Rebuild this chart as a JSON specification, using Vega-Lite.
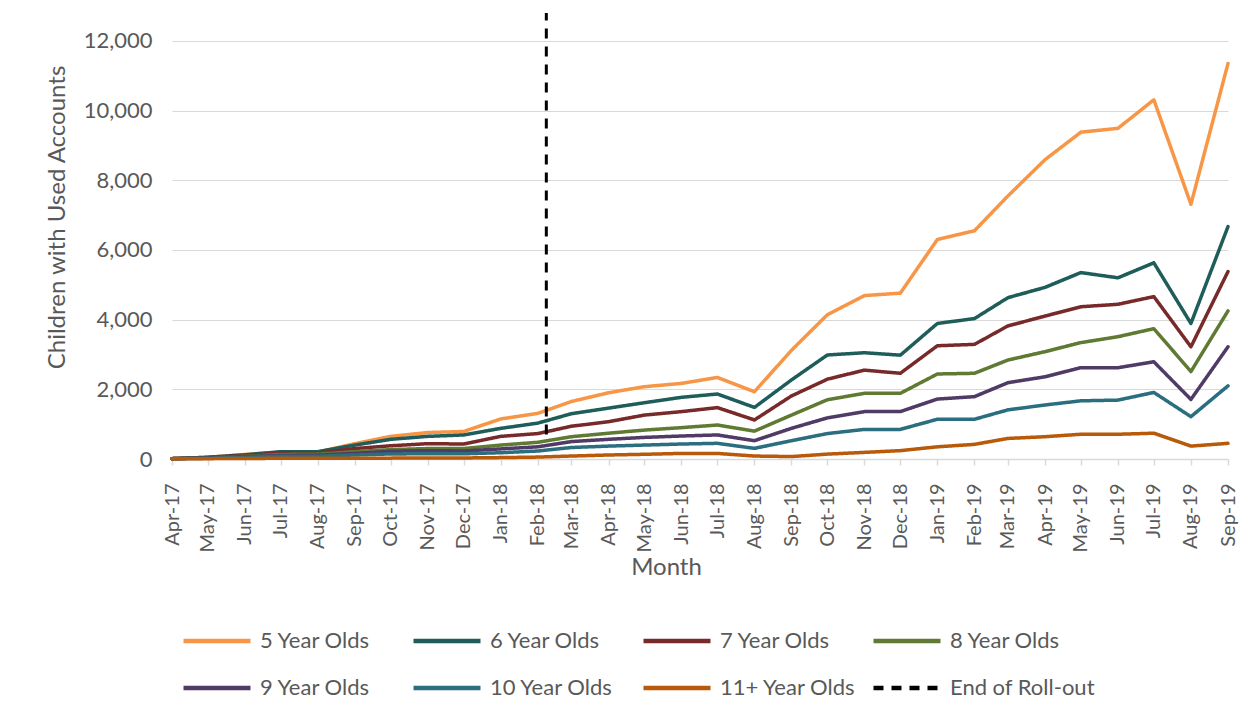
{
  "$schema": "https://vega.github.io/schema/vega-lite/v6.json",
  "width": 1056,
  "height": 446,
  "autosize": {"type": "none"},
  "padding": {"left": 172, "top": 13, "right": 15, "bottom": 250},
  "background": "white",
  "config": {
    "font": "Lato",
    "view": {"stroke": null},
    "axis": {
      "labelColor": "#595959",
      "titleColor": "#595959",
      "titleFontWeight": "normal",
      "domainColor": "#D9D9D9",
      "tickColor": "#D9D9D9",
      "gridColor": "#D9D9D9"
    },
    "legend": {
      "title": null,
      "orient": "none",
      "legendX": 9,
      "legendY": 592,
      "direction": "horizontal",
      "columns": 4,
      "gridAlign": "all",
      "symbolType": "stroke",
      "symbolSize": 4489,
      "symbolStrokeWidth": 4.5,
      "labelFontSize": 22,
      "labelColor": "#595959",
      "labelOffset": 7,
      "labelLimit": 400,
      "columnPadding": -1,
      "rowPadding": 0
    }
  },
  "datasets": {
    "counts": [
      {"month": "2017-04-01", "group": "5 Year Olds", "children": 10},
      {"month": "2017-05-01", "group": "5 Year Olds", "children": 50},
      {"month": "2017-06-01", "group": "5 Year Olds", "children": 130},
      {"month": "2017-07-01", "group": "5 Year Olds", "children": 200},
      {"month": "2017-08-01", "group": "5 Year Olds", "children": 200},
      {"month": "2017-09-01", "group": "5 Year Olds", "children": 440},
      {"month": "2017-10-01", "group": "5 Year Olds", "children": 650},
      {"month": "2017-11-01", "group": "5 Year Olds", "children": 760},
      {"month": "2017-12-01", "group": "5 Year Olds", "children": 790},
      {"month": "2018-01-01", "group": "5 Year Olds", "children": 1150},
      {"month": "2018-02-01", "group": "5 Year Olds", "children": 1310},
      {"month": "2018-03-01", "group": "5 Year Olds", "children": 1650},
      {"month": "2018-04-01", "group": "5 Year Olds", "children": 1900},
      {"month": "2018-05-01", "group": "5 Year Olds", "children": 2075},
      {"month": "2018-06-01", "group": "5 Year Olds", "children": 2170},
      {"month": "2018-07-01", "group": "5 Year Olds", "children": 2340},
      {"month": "2018-08-01", "group": "5 Year Olds", "children": 1930},
      {"month": "2018-09-01", "group": "5 Year Olds", "children": 3120},
      {"month": "2018-10-01", "group": "5 Year Olds", "children": 4140},
      {"month": "2018-11-01", "group": "5 Year Olds", "children": 4690},
      {"month": "2018-12-01", "group": "5 Year Olds", "children": 4760},
      {"month": "2019-01-01", "group": "5 Year Olds", "children": 6300},
      {"month": "2019-02-01", "group": "5 Year Olds", "children": 6550},
      {"month": "2019-03-01", "group": "5 Year Olds", "children": 7550},
      {"month": "2019-04-01", "group": "5 Year Olds", "children": 8590},
      {"month": "2019-05-01", "group": "5 Year Olds", "children": 9380},
      {"month": "2019-06-01", "group": "5 Year Olds", "children": 9490},
      {"month": "2019-07-01", "group": "5 Year Olds", "children": 10310},
      {"month": "2019-08-01", "group": "5 Year Olds", "children": 7310},
      {"month": "2019-09-01", "group": "5 Year Olds", "children": 11350},

      {"month": "2017-04-01", "group": "6 Year Olds", "children": 10},
      {"month": "2017-05-01", "group": "6 Year Olds", "children": 50},
      {"month": "2017-06-01", "group": "6 Year Olds", "children": 120},
      {"month": "2017-07-01", "group": "6 Year Olds", "children": 210},
      {"month": "2017-08-01", "group": "6 Year Olds", "children": 210},
      {"month": "2017-09-01", "group": "6 Year Olds", "children": 400},
      {"month": "2017-10-01", "group": "6 Year Olds", "children": 565},
      {"month": "2017-11-01", "group": "6 Year Olds", "children": 650},
      {"month": "2017-12-01", "group": "6 Year Olds", "children": 690},
      {"month": "2018-01-01", "group": "6 Year Olds", "children": 880},
      {"month": "2018-02-01", "group": "6 Year Olds", "children": 1030},
      {"month": "2018-03-01", "group": "6 Year Olds", "children": 1300},
      {"month": "2018-04-01", "group": "6 Year Olds", "children": 1460},
      {"month": "2018-05-01", "group": "6 Year Olds", "children": 1615},
      {"month": "2018-06-01", "group": "6 Year Olds", "children": 1770},
      {"month": "2018-07-01", "group": "6 Year Olds", "children": 1865},
      {"month": "2018-08-01", "group": "6 Year Olds", "children": 1480},
      {"month": "2018-09-01", "group": "6 Year Olds", "children": 2270},
      {"month": "2018-10-01", "group": "6 Year Olds", "children": 2985},
      {"month": "2018-11-01", "group": "6 Year Olds", "children": 3050},
      {"month": "2018-12-01", "group": "6 Year Olds", "children": 2980},
      {"month": "2019-01-01", "group": "6 Year Olds", "children": 3890},
      {"month": "2019-02-01", "group": "6 Year Olds", "children": 4030},
      {"month": "2019-03-01", "group": "6 Year Olds", "children": 4630},
      {"month": "2019-04-01", "group": "6 Year Olds", "children": 4925},
      {"month": "2019-05-01", "group": "6 Year Olds", "children": 5350},
      {"month": "2019-06-01", "group": "6 Year Olds", "children": 5200},
      {"month": "2019-07-01", "group": "6 Year Olds", "children": 5630},
      {"month": "2019-08-01", "group": "6 Year Olds", "children": 3890},
      {"month": "2019-09-01", "group": "6 Year Olds", "children": 6670},

      {"month": "2017-04-01", "group": "7 Year Olds", "children": 10},
      {"month": "2017-05-01", "group": "7 Year Olds", "children": 40},
      {"month": "2017-06-01", "group": "7 Year Olds", "children": 100},
      {"month": "2017-07-01", "group": "7 Year Olds", "children": 170},
      {"month": "2017-08-01", "group": "7 Year Olds", "children": 170},
      {"month": "2017-09-01", "group": "7 Year Olds", "children": 300},
      {"month": "2017-10-01", "group": "7 Year Olds", "children": 380},
      {"month": "2017-11-01", "group": "7 Year Olds", "children": 440},
      {"month": "2017-12-01", "group": "7 Year Olds", "children": 430},
      {"month": "2018-01-01", "group": "7 Year Olds", "children": 650},
      {"month": "2018-02-01", "group": "7 Year Olds", "children": 730},
      {"month": "2018-03-01", "group": "7 Year Olds", "children": 940},
      {"month": "2018-04-01", "group": "7 Year Olds", "children": 1070},
      {"month": "2018-05-01", "group": "7 Year Olds", "children": 1260},
      {"month": "2018-06-01", "group": "7 Year Olds", "children": 1360},
      {"month": "2018-07-01", "group": "7 Year Olds", "children": 1475},
      {"month": "2018-08-01", "group": "7 Year Olds", "children": 1120},
      {"month": "2018-09-01", "group": "7 Year Olds", "children": 1810},
      {"month": "2018-10-01", "group": "7 Year Olds", "children": 2290},
      {"month": "2018-11-01", "group": "7 Year Olds", "children": 2550},
      {"month": "2018-12-01", "group": "7 Year Olds", "children": 2460},
      {"month": "2019-01-01", "group": "7 Year Olds", "children": 3250},
      {"month": "2019-02-01", "group": "7 Year Olds", "children": 3290},
      {"month": "2019-03-01", "group": "7 Year Olds", "children": 3820},
      {"month": "2019-04-01", "group": "7 Year Olds", "children": 4100},
      {"month": "2019-05-01", "group": "7 Year Olds", "children": 4370},
      {"month": "2019-06-01", "group": "7 Year Olds", "children": 4440},
      {"month": "2019-07-01", "group": "7 Year Olds", "children": 4660},
      {"month": "2019-08-01", "group": "7 Year Olds", "children": 3220},
      {"month": "2019-09-01", "group": "7 Year Olds", "children": 5380},

      {"month": "2017-04-01", "group": "8 Year Olds", "children": 10},
      {"month": "2017-05-01", "group": "8 Year Olds", "children": 30},
      {"month": "2017-06-01", "group": "8 Year Olds", "children": 80},
      {"month": "2017-07-01", "group": "8 Year Olds", "children": 130},
      {"month": "2017-08-01", "group": "8 Year Olds", "children": 140},
      {"month": "2017-09-01", "group": "8 Year Olds", "children": 210},
      {"month": "2017-10-01", "group": "8 Year Olds", "children": 270},
      {"month": "2017-11-01", "group": "8 Year Olds", "children": 300},
      {"month": "2017-12-01", "group": "8 Year Olds", "children": 300},
      {"month": "2018-01-01", "group": "8 Year Olds", "children": 400},
      {"month": "2018-02-01", "group": "8 Year Olds", "children": 480},
      {"month": "2018-03-01", "group": "8 Year Olds", "children": 640},
      {"month": "2018-04-01", "group": "8 Year Olds", "children": 740},
      {"month": "2018-05-01", "group": "8 Year Olds", "children": 830},
      {"month": "2018-06-01", "group": "8 Year Olds", "children": 900},
      {"month": "2018-07-01", "group": "8 Year Olds", "children": 975},
      {"month": "2018-08-01", "group": "8 Year Olds", "children": 800},
      {"month": "2018-09-01", "group": "8 Year Olds", "children": 1260},
      {"month": "2018-10-01", "group": "8 Year Olds", "children": 1700},
      {"month": "2018-11-01", "group": "8 Year Olds", "children": 1885},
      {"month": "2018-12-01", "group": "8 Year Olds", "children": 1885},
      {"month": "2019-01-01", "group": "8 Year Olds", "children": 2440},
      {"month": "2019-02-01", "group": "8 Year Olds", "children": 2460},
      {"month": "2019-03-01", "group": "8 Year Olds", "children": 2840},
      {"month": "2019-04-01", "group": "8 Year Olds", "children": 3080},
      {"month": "2019-05-01", "group": "8 Year Olds", "children": 3340},
      {"month": "2019-06-01", "group": "8 Year Olds", "children": 3510},
      {"month": "2019-07-01", "group": "8 Year Olds", "children": 3740},
      {"month": "2019-08-01", "group": "8 Year Olds", "children": 2510},
      {"month": "2019-09-01", "group": "8 Year Olds", "children": 4250},

      {"month": "2017-04-01", "group": "9 Year Olds", "children": 10},
      {"month": "2017-05-01", "group": "9 Year Olds", "children": 30},
      {"month": "2017-06-01", "group": "9 Year Olds", "children": 70},
      {"month": "2017-07-01", "group": "9 Year Olds", "children": 100},
      {"month": "2017-08-01", "group": "9 Year Olds", "children": 110},
      {"month": "2017-09-01", "group": "9 Year Olds", "children": 160},
      {"month": "2017-10-01", "group": "9 Year Olds", "children": 220},
      {"month": "2017-11-01", "group": "9 Year Olds", "children": 240},
      {"month": "2017-12-01", "group": "9 Year Olds", "children": 230},
      {"month": "2018-01-01", "group": "9 Year Olds", "children": 290},
      {"month": "2018-02-01", "group": "9 Year Olds", "children": 350},
      {"month": "2018-03-01", "group": "9 Year Olds", "children": 500},
      {"month": "2018-04-01", "group": "9 Year Olds", "children": 565},
      {"month": "2018-05-01", "group": "9 Year Olds", "children": 620},
      {"month": "2018-06-01", "group": "9 Year Olds", "children": 660},
      {"month": "2018-07-01", "group": "9 Year Olds", "children": 690},
      {"month": "2018-08-01", "group": "9 Year Olds", "children": 525},
      {"month": "2018-09-01", "group": "9 Year Olds", "children": 880},
      {"month": "2018-10-01", "group": "9 Year Olds", "children": 1180},
      {"month": "2018-11-01", "group": "9 Year Olds", "children": 1360},
      {"month": "2018-12-01", "group": "9 Year Olds", "children": 1360},
      {"month": "2019-01-01", "group": "9 Year Olds", "children": 1720},
      {"month": "2019-02-01", "group": "9 Year Olds", "children": 1790},
      {"month": "2019-03-01", "group": "9 Year Olds", "children": 2190},
      {"month": "2019-04-01", "group": "9 Year Olds", "children": 2360},
      {"month": "2019-05-01", "group": "9 Year Olds", "children": 2620},
      {"month": "2019-06-01", "group": "9 Year Olds", "children": 2620},
      {"month": "2019-07-01", "group": "9 Year Olds", "children": 2790},
      {"month": "2019-08-01", "group": "9 Year Olds", "children": 1710},
      {"month": "2019-09-01", "group": "9 Year Olds", "children": 3220},

      {"month": "2017-04-01", "group": "10 Year Olds", "children": 5},
      {"month": "2017-05-01", "group": "10 Year Olds", "children": 20},
      {"month": "2017-06-01", "group": "10 Year Olds", "children": 50},
      {"month": "2017-07-01", "group": "10 Year Olds", "children": 80},
      {"month": "2017-08-01", "group": "10 Year Olds", "children": 80},
      {"month": "2017-09-01", "group": "10 Year Olds", "children": 115},
      {"month": "2017-10-01", "group": "10 Year Olds", "children": 145},
      {"month": "2017-11-01", "group": "10 Year Olds", "children": 150},
      {"month": "2017-12-01", "group": "10 Year Olds", "children": 150},
      {"month": "2018-01-01", "group": "10 Year Olds", "children": 180},
      {"month": "2018-02-01", "group": "10 Year Olds", "children": 230},
      {"month": "2018-03-01", "group": "10 Year Olds", "children": 330},
      {"month": "2018-04-01", "group": "10 Year Olds", "children": 370},
      {"month": "2018-05-01", "group": "10 Year Olds", "children": 400},
      {"month": "2018-06-01", "group": "10 Year Olds", "children": 430},
      {"month": "2018-07-01", "group": "10 Year Olds", "children": 450},
      {"month": "2018-08-01", "group": "10 Year Olds", "children": 305},
      {"month": "2018-09-01", "group": "10 Year Olds", "children": 525},
      {"month": "2018-10-01", "group": "10 Year Olds", "children": 730},
      {"month": "2018-11-01", "group": "10 Year Olds", "children": 850},
      {"month": "2018-12-01", "group": "10 Year Olds", "children": 850},
      {"month": "2019-01-01", "group": "10 Year Olds", "children": 1140},
      {"month": "2019-02-01", "group": "10 Year Olds", "children": 1140},
      {"month": "2019-03-01", "group": "10 Year Olds", "children": 1410},
      {"month": "2019-04-01", "group": "10 Year Olds", "children": 1550},
      {"month": "2019-05-01", "group": "10 Year Olds", "children": 1670},
      {"month": "2019-06-01", "group": "10 Year Olds", "children": 1690},
      {"month": "2019-07-01", "group": "10 Year Olds", "children": 1910},
      {"month": "2019-08-01", "group": "10 Year Olds", "children": 1215},
      {"month": "2019-09-01", "group": "10 Year Olds", "children": 2100},

      {"month": "2017-04-01", "group": "11+ Year Olds", "children": 5},
      {"month": "2017-05-01", "group": "11+ Year Olds", "children": 10},
      {"month": "2017-06-01", "group": "11+ Year Olds", "children": 15},
      {"month": "2017-07-01", "group": "11+ Year Olds", "children": 20},
      {"month": "2017-08-01", "group": "11+ Year Olds", "children": 20},
      {"month": "2017-09-01", "group": "11+ Year Olds", "children": 25},
      {"month": "2017-10-01", "group": "11+ Year Olds", "children": 25},
      {"month": "2017-11-01", "group": "11+ Year Olds", "children": 30},
      {"month": "2017-12-01", "group": "11+ Year Olds", "children": 30},
      {"month": "2018-01-01", "group": "11+ Year Olds", "children": 40},
      {"month": "2018-02-01", "group": "11+ Year Olds", "children": 55},
      {"month": "2018-03-01", "group": "11+ Year Olds", "children": 85},
      {"month": "2018-04-01", "group": "11+ Year Olds", "children": 115},
      {"month": "2018-05-01", "group": "11+ Year Olds", "children": 135},
      {"month": "2018-06-01", "group": "11+ Year Olds", "children": 160},
      {"month": "2018-07-01", "group": "11+ Year Olds", "children": 160},
      {"month": "2018-08-01", "group": "11+ Year Olds", "children": 85},
      {"month": "2018-09-01", "group": "11+ Year Olds", "children": 70},
      {"month": "2018-10-01", "group": "11+ Year Olds", "children": 140},
      {"month": "2018-11-01", "group": "11+ Year Olds", "children": 190},
      {"month": "2018-12-01", "group": "11+ Year Olds", "children": 240},
      {"month": "2019-01-01", "group": "11+ Year Olds", "children": 350},
      {"month": "2019-02-01", "group": "11+ Year Olds", "children": 420},
      {"month": "2019-03-01", "group": "11+ Year Olds", "children": 590},
      {"month": "2019-04-01", "group": "11+ Year Olds", "children": 640},
      {"month": "2019-05-01", "group": "11+ Year Olds", "children": 710},
      {"month": "2019-06-01", "group": "11+ Year Olds", "children": 710},
      {"month": "2019-07-01", "group": "11+ Year Olds", "children": 740},
      {"month": "2019-08-01", "group": "11+ Year Olds", "children": 370},
      {"month": "2019-09-01", "group": "11+ Year Olds", "children": 450}
    ],
    "rollout": [
      {"month": "2018-02-08", "group": "End of Roll-out", "from": 700, "to": 12800}
    ]
  },
  "layer": [
    {
      "data": {"name": "counts"},
      "mark": {"type": "line", "strokeWidth": 3.5, "strokeJoin": "round", "strokeCap": "round"},
      "encoding": {
        "x": {
          "field": "month",
          "type": "temporal",
          "scale": {"type": "utc", "domain": ["2017-04-01", "2019-09-01"]},
          "axis": {
            "title": "Month",
            "format": "%b-%y",
            "tickCount": {"interval": "month", "step": 1},
            "labelAngle": 270,
            "labelFontSize": 20,
            "labelPadding": 18,
            "labelOverlap": false,
            "labelFlush": false,
            "domainWidth": 1.5,
            "tickSize": 6,
            "tickWidth": 1.5,
            "grid": false,
            "titleFontSize": 24,
            "titlePadding": 4,
            "titleX": 494
          }
        },
        "y": {
          "field": "children",
          "type": "quantitative",
          "scale": {"domain": [0, 12800], "nice": false},
          "axis": {
            "title": "Children with Used Accounts",
            "values": [0, 2000, 4000, 6000, 8000, 10000, 12000],
            "format": ",.0f",
            "grid": true,
            "gridWidth": 1.2,
            "domain": false,
            "ticks": false,
            "labelFontSize": 22,
            "labelPadding": 20,
            "titleFontSize": 24,
            "titlePadding": 14,
            "titleY": 204
          }
        },
        "color": {
          "field": "group",
          "type": "nominal",
          "scale": {
            "domain": ["5 Year Olds", "6 Year Olds", "7 Year Olds", "8 Year Olds", "9 Year Olds", "10 Year Olds", "11+ Year Olds", "End of Roll-out"],
            "range": ["#F79646", "#1F5D5A", "#782A2A", "#5F7A32", "#4F3B66", "#2B6E80", "#B85A0A", "#000000"]
          }
        },
        "strokeDash": {
          "field": "group",
          "type": "nominal",
          "scale": {
            "domain": ["5 Year Olds", "6 Year Olds", "7 Year Olds", "8 Year Olds", "9 Year Olds", "10 Year Olds", "11+ Year Olds", "End of Roll-out"],
            "range": [[1, 0], [1, 0], [1, 0], [1, 0], [1, 0], [1, 0], [1, 0], [10, 8]]
          }
        }
      }
    },
    {
      "data": {"name": "rollout"},
      "mark": {"type": "rule", "strokeWidth": 3, "strokeCap": "butt"},
      "encoding": {
        "x": {"field": "month", "type": "temporal"},
        "y": {"field": "from", "type": "quantitative"},
        "y2": {"field": "to"},
        "color": {"field": "group", "type": "nominal"},
        "strokeDash": {"field": "group", "type": "nominal"}
      }
    }
  ]
}
